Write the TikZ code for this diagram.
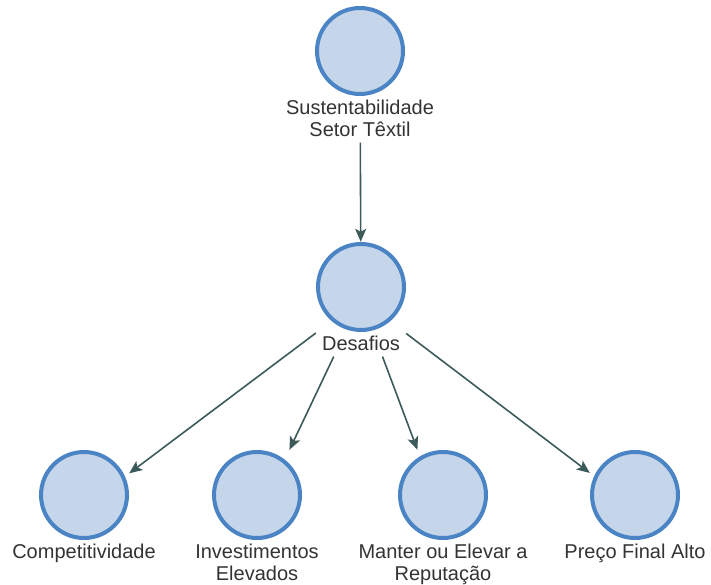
\documentclass[tikz,border=0pt]{standalone}
\usepackage{fontspec}
\setmainfont{Liberation Sans}
\usetikzlibrary{positioning, fit}
\usetikzlibrary{arrows.meta}

\definecolor{bubblefill}{HTML}{C5D5EA}
\definecolor{bubbleline}{HTML}{4A84C4}
\definecolor{linkcol}{HTML}{3D5A5A}
\definecolor{captioncol}{HTML}{333333}

\tikzset{
  bubble/.style={circle, draw=bubbleline, fill=bubblefill, line width=4pt,
    minimum size=86pt, inner sep=0pt},
  caption/.style={align=center, inner sep=1pt,
    text depth=5pt, text=captioncol, font=\fontsize{20}{22}\selectfont},
  block/.style={inner sep=0pt},
  link/.style={draw=linkcol, line width=1.6pt,
    -{Stealth[length=13pt,width=11pt,inset=3pt]}}
}

\begin{document}
\begin{tikzpicture}[x=1pt,y=1pt]
\useasboundingbox (0,0) rectangle (711,584);

\coordinate (T) at (360,533);
\coordinate (M) at (361,297);
\coordinate (B1) at (84,89);
\coordinate (B2) at (257,89);
\coordinate (B3) at (443,89);
\coordinate (B4) at (635,89);

% Top and middle bubbles
\node[bubble] (sust) at (T) {};
\node[caption, below=2.5pt of sust] (sust-txt) {Sustentabilidade\\Setor Têxtil};
\node[block, fit=(sust)(sust-txt.south)] (sust-box) {};

\node[bubble] (desaf) at (M) {};
\node[caption, below=2.5pt of desaf] (desaf-txt) {Desafios};
\node[block, fit=(desaf)(desaf-txt.south)] (desaf-box) {};

% Bottom row
\node[bubble] (comp) at (B1) {};
\node[caption, below=2.5pt of comp] (comp-txt) {Competitividade};
\node[block, fit=(comp)(comp-txt.south)] (comp-box) {};

\node[bubble] (invest) at (B2) {};
\node[caption, below=2.5pt of invest] (invest-txt) {Investimentos\\Elevados};
\node[block, fit=(invest)(invest-txt.south)] (invest-box) {};

\node[bubble] (reput) at (B3) {};
\node[caption, below=2.5pt of reput] (reput-txt) {Manter ou Elevar a\\Reputação};
\node[block, fit=(reput)(reput-txt.south)] (reput-box) {};

\node[bubble] (preco) at (B4) {};
\node[caption, below=2.5pt of preco] (preco-txt) {Preço Final Alto};
\node[block, fit=(preco)(preco-txt.south)] (preco-box) {};

% Links
\draw[link] (sust-box) -- (desaf-box);
\draw[link] (desaf-box) -- (comp-box);
\draw[link] (desaf-box) -- (invest-box);
\draw[link] (desaf-box) -- (reput-box);
\draw[link] (desaf-box) -- (preco-box);
\end{tikzpicture}
\end{document}
